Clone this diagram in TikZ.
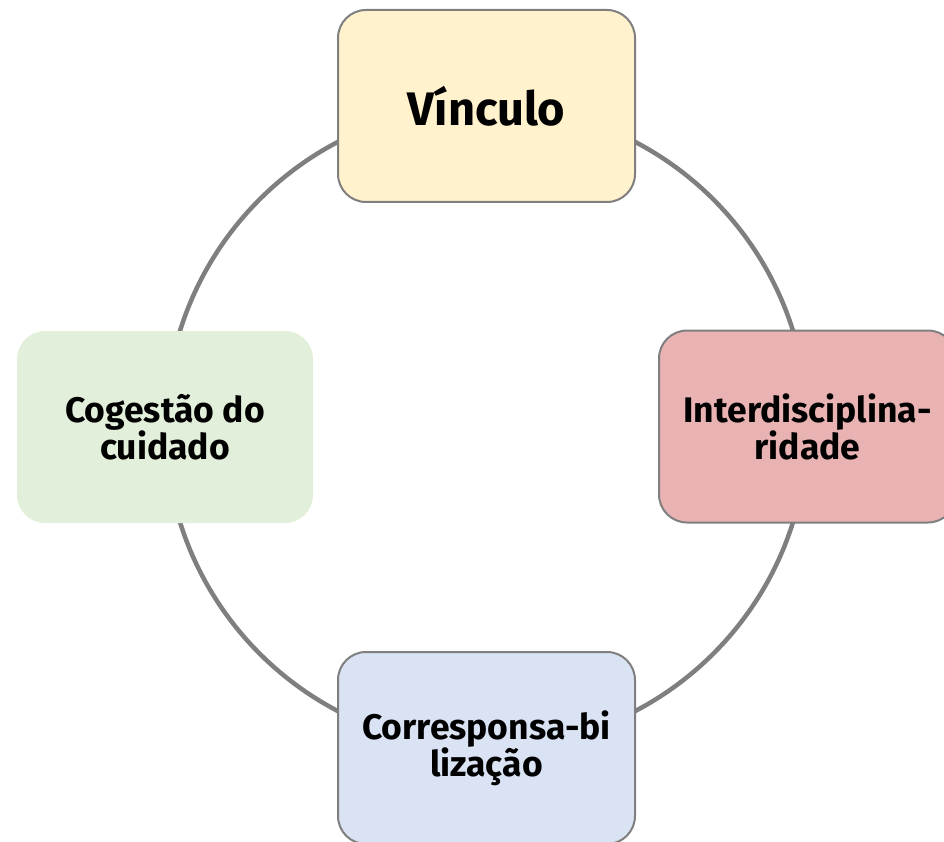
\documentclass[tikz,border=0pt]{standalone}
\usepackage{fontspec}
\setmainfont{Fira Sans}
\usepackage{tikz}
\definecolor{ringgray}{HTML}{7F7F7F}
\definecolor{vincfill}{HTML}{FFF2CC}
\definecolor{interfill}{HTML}{EAB3B3}
\definecolor{cogfill}{HTML}{E2EFDA}
\definecolor{corrfill}{HTML}{DAE3F3}

\begin{document}
\begin{tikzpicture}[x=1pt,y=-1pt,
  box/.style={rounded corners=28pt, minimum width=297pt, minimum height=192pt,
    align=center, draw=ringgray, line width=2pt,
    font=\bfseries\fontsize{35.5}{37}\selectfont}]
\useasboundingbox (0,0) rectangle (944,842);
\coordinate (ctr) at (486.5,426.5);
% ring behind the boxes
\draw[ringgray, line width=4.5pt] (ctr) circle (321pt);
%
\node[box, fill=vincfill, font=\bfseries\fontsize{47}{50}\selectfont] (vinc) at (486.5,106) {Vínculo};
\node[box, fill=interfill] (inter) at (807.5,426.5) {Interdisciplina-\\ridade};
\node[box, fill=corrfill] (corr) at (486.5,748) {Corresponsa-bi\\lização};
\node[box, fill=cogfill, draw=none, minimum width=296pt] (cog) at (165,427) {Cogestão do\\cuidado};
\end{tikzpicture}
\end{document}
